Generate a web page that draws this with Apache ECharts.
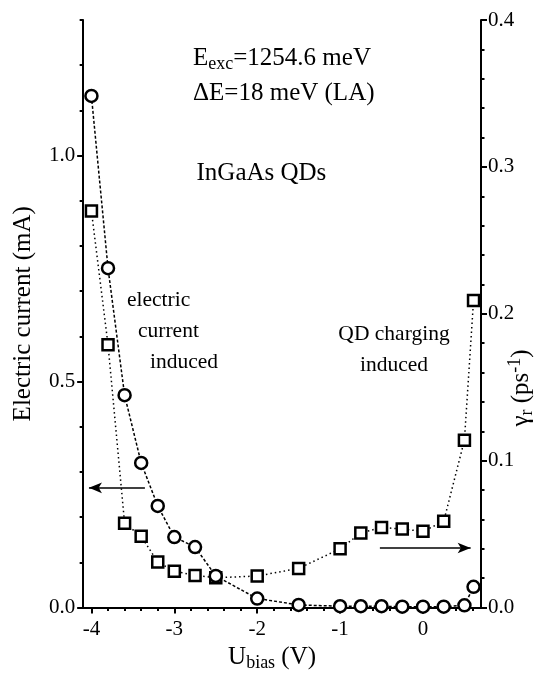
<!DOCTYPE html>
<html>
<head>
<meta charset="utf-8">
<script src="https://cdn.jsdelivr.net/npm/echarts@6/dist/echarts.min.js"></script>
<style>
  html, body { margin: 0; padding: 0; background: #fff; }
  #main { width: 538px; height: 677px; }
</style>
</head>
<body>
<div id="main"></div>
<script>
// bias voltage (V)
var biasV = [-4.0, -3.8, -3.6, -3.4, -3.2, -3.0, -2.75, -2.5, -2.0, -1.5, -1.0, -0.75, -0.5, -0.25, 0, 0.25, 0.5, 0.61];
// electric current (mA), circles, left axis
var currentMA = [1.132, 0.751, 0.470, 0.320, 0.225, 0.156, 0.134, 0.070, 0.020, 0.006, 0.003, 0.003, 0.003, 0.002, 0.002, 0.002, 0.005, 0.046];
// gamma_r (ps^-1), squares, right axis
var gammaR = [0.270, 0.179, 0.0575, 0.0485, 0.031, 0.0248, 0.0219, 0.0203, 0.0215, 0.0267, 0.040, 0.0508, 0.0546, 0.0535, 0.0519, 0.0587, 0.114, 0.209];

// ticks
var xMajor = [-4, -3, -2, -1, 0];
var xMinor = [-3.8, -3.6, -3.4, -3.2, -2.8, -2.6, -2.4, -2.2, -1.8, -1.6, -1.4, -1.2, -0.8, -0.6, -0.4, -0.2, 0.2, 0.4, 0.6];
var yLeftMajor = [0, 0.5, 1.0];
var yLeftMinor = [0.1, 0.2, 0.3, 0.4, 0.6, 0.7, 0.8, 0.9, 1.1, 1.2, 1.3];

// arrows [x0, y0, x1, y1] in data units
var arrowLeft = [-3.355, 0.265, -4.03, 0.265];
var arrowRight = [-0.52, 0.0406, 0.575, 0.0406];

var FONT = 'Liberation Serif';

function pairs(xs, ys) {
    var out = [];
    for (var i = 0; i < xs.length; i++) {
        out.push([xs[i], ys[i]]);
    }
    return out;
}

function arrowLine(a) {
    return {
        silent: true,
        symbol: ['none', 'arrow'],
        symbolSize: [8, 13],
        label: { show: false },
        lineStyle: { color: '#000', width: 1.5, type: 'solid' },
        emphasis: { disabled: true },
        data: [[{ coord: [a[0], a[1]] }, { coord: [a[2], a[3]] }]]
    };
}

// plain text label, y is the baseline
function label(x, y, text, size, align) {
    return {
        type: 'text', x: x, y: y - size * 0.335,
        style: {
            text: text, fontFamily: FONT, fontSize: size, fill: '#000',
            align: align || 'left', verticalAlign: 'middle'
        }
    };
}

var myChart = echarts.init(document.getElementById('main'));

var axisLineStyle = { color: '#000', width: 2 };
var tickStyle = { color: '#000', width: 2 };

var option = {
    backgroundColor: '#fff',
    animation: false,
    grid: { left: 83, right: 57, top: 20, bottom: 65 },
    xAxis: [{
        type: 'value',
        position: 'bottom',
        min: -4.1,
        max: 0.7,
        name: '{a|U}{s|bias}{a| (V)}',
        nameLocation: 'middle',
        nameGap: 30,
        nameTextStyle: {
            padding: [0, 20, 0, 0],
            rich: {
                a: { fontFamily: FONT, fontSize: 25, color: '#000', lineHeight: 30 },
                s: { fontFamily: FONT, fontSize: 18, color: '#000', lineHeight: 15, verticalAlign: 'bottom' }
            }
        },
        axisLine: { onZero: false, lineStyle: axisLineStyle },
        axisTick: { customValues: xMajor, length: 6, lineStyle: tickStyle },
        axisLabel: { customValues: xMajor, margin: 11, fontFamily: FONT, fontSize: 21, color: '#000' },
        splitLine: { show: false }
    }, {
        // minor ticks on x
        type: 'value',
        position: 'bottom',
        min: -4.1,
        max: 0.7,
        axisLine: { show: false, onZero: false },
        axisTick: { customValues: xMinor, length: 3.5, lineStyle: tickStyle },
        axisLabel: { show: false },
        splitLine: { show: false }
    }],
    yAxis: [{
        type: 'value',
        position: 'left',
        min: 0,
        max: 1.3,
        name: 'Electric current (mA)',
        nameLocation: 'middle',
        nameRotate: 90,
        nameGap: 43,
        nameTextStyle: { fontFamily: FONT, fontSize: 25, color: '#000', lineHeight: 30 },
        axisLine: { show: true, onZero: false, lineStyle: axisLineStyle },
        axisTick: { show: true, customValues: yLeftMajor, length: 6, lineStyle: tickStyle },
        axisLabel: {
            customValues: yLeftMajor, margin: 8, fontFamily: FONT, fontSize: 21, color: '#000',
            formatter: function (v) { return v.toFixed(1); }
        },
        splitLine: { show: false }
    }, {
        // minor ticks on left axis
        type: 'value',
        position: 'left',
        min: 0,
        max: 1.3,
        axisLine: { show: false, onZero: false },
        axisTick: { show: true, customValues: yLeftMinor, length: 3.5, lineStyle: tickStyle },
        axisLabel: { show: false },
        splitLine: { show: false }
    }, {
        type: 'value',
        position: 'right',
        min: 0,
        max: 0.4,
        interval: 0.1,
        axisLine: { show: true, onZero: false, lineStyle: axisLineStyle },
        axisTick: { show: true, length: 6, lineStyle: tickStyle },
        minorTick: { show: true, splitNumber: 5, length: 3.5, lineStyle: tickStyle },
        axisLabel: {
            margin: 7, fontFamily: FONT, fontSize: 21, color: '#000',
            formatter: function (v) { return v.toFixed(1); }
        },
        splitLine: { show: false },
        minorSplitLine: { show: false }
    }],
    graphic: [{
        type: 'text', x: 193, y: 58.3,
        style: {
            text: '{a|E}{s|exc}{a|=1254.6 meV}',
            verticalAlign: 'middle',
            rich: {
                a: { fontFamily: FONT, fontSize: 25, fill: '#000', lineHeight: 30 },
                s: { fontFamily: FONT, fontSize: 18, fill: '#000', lineHeight: 15, verticalAlign: 'bottom' }
            }
        }
    },
    label(193, 101.7, '\u0394E=18 meV (LA)', 25),
    label(196.5, 181.7, 'InGaAs QDs', 25),
    label(127, 307.3, 'electric', 21.5),
    label(138, 338.3, 'current', 21.5),
    label(150, 370, 'induced', 21.5),
    label(394, 341.7, 'QD charging', 21.5, 'center'),
    label(394, 372.3, 'induced', 21.5, 'center'),
    {
        // right axis name, rotated
        type: 'text', x: 521, y: 388, rotation: Math.PI / 2,
        style: {
            text: '{a|\u03B3}{s|r}{a| (ps}{p|-1}{a|)}',
            align: 'center',
            verticalAlign: 'middle',
            rich: {
                a: { fontFamily: FONT, fontSize: 25, fill: '#000', lineHeight: 30 },
                s: { fontFamily: FONT, fontSize: 18, fill: '#000', lineHeight: 15, verticalAlign: 'bottom' },
                p: { fontFamily: FONT, fontSize: 18, fill: '#000', lineHeight: 15, verticalAlign: 'top' }
            }
        }
    }],
    series: [{
        name: 'gamma',
        type: 'line',
        xAxisIndex: 0,
        yAxisIndex: 2,
        data: pairs(biasV, gammaR),
        symbol: 'rect',
        symbolSize: 11,
        itemStyle: { color: '#fff', borderColor: '#000', borderWidth: 2.5 },
        lineStyle: { color: '#000', width: 1.5, type: [1.5, 3] },
        emphasis: { disabled: true },
        markLine: arrowLine(arrowRight),
        z: 2
    }, {
        name: 'current',
        type: 'line',
        xAxisIndex: 0,
        yAxisIndex: 0,
        data: pairs(biasV, currentMA),
        symbol: 'circle',
        symbolSize: 12,
        itemStyle: { color: '#fff', borderColor: '#000', borderWidth: 2.5 },
        lineStyle: { color: '#000', width: 1.5, type: [3, 2] },
        emphasis: { disabled: true },
        markLine: arrowLine(arrowLeft),
        z: 3
    }]
};

myChart.setOption(option);
</script>
</body>
</html>
